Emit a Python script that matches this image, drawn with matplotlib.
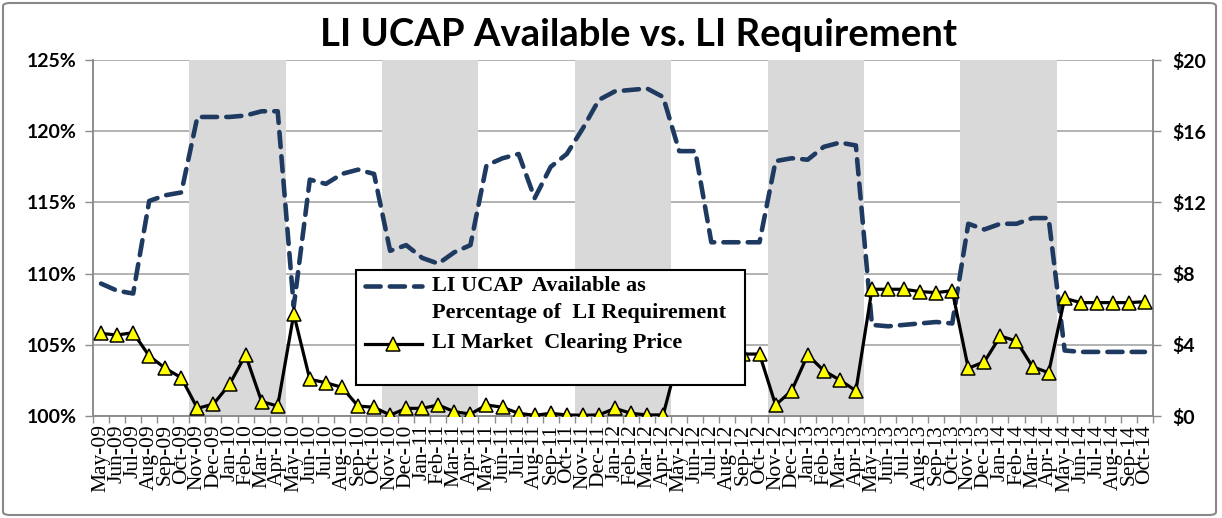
import matplotlib.pyplot as plt
import pandas as pd
from matplotlib.lines import Line2D
from matplotlib.patches import Rectangle, FancyBboxPatch

# monthly data, May-09 .. Oct-14
months = list(pd.date_range('2009-05-01', periods=66, freq='MS').strftime('%b-%y'))

ucap_pct = [109.3, 108.8, 108.6, 115.1, 115.5, 115.7, 121.0, 121.0, 121.0, 121.1, 121.4, 121.4,
            107.7, 116.6, 116.3, 117.0, 117.3, 117.0, 111.6, 112.0, 111.1, 110.7, 111.5, 112.0,
            117.6, 118.1, 118.4, 115.3, 117.5, 118.4, 120.2, 122.2, 122.8, 122.9, 123.0, 122.4,
            118.6, 118.6, 112.2, 112.2, 112.2, 112.2, 117.9, 118.1, 118.0, 118.9, 119.2, 119.0,
            106.4, 106.3, 106.4, 106.5, 106.6, 106.5, 113.5, 113.1, 113.5, 113.5, 113.9, 113.9,
            104.6, 104.5, 104.5, 104.5, 104.5, 104.5]

clearing_price = [4.64, 4.55, 4.68, 3.37, 2.68, 2.15, 0.43, 0.67, 1.78, 3.43, 0.81, 0.56,
                  5.73, 2.06, 1.87, 1.61, 0.56, 0.49, 0.05, 0.43, 0.43, 0.62, 0.24, 0.11,
                  0.62, 0.49, 0.15, 0.04, 0.15, 0.06, 0.04, 0.06, 0.43, 0.15, 0.06, 0.06,
                  3.50, 3.50, 3.50, 3.50, 3.48, 3.48, 0.62, 1.42, 3.43, 2.55, 2.02, 1.42,
                  7.12, 7.12, 7.12, 6.99, 6.93, 7.04, 2.68, 3.05, 4.49, 4.21, 2.77, 2.43,
                  6.61, 6.37, 6.37, 6.37, 6.37, 6.42]

winter = ['Nov', 'Dec', 'Jan', 'Feb', 'Mar', 'Apr']

W, H = 1222, 518
fig = plt.figure(figsize=(W / 100, H / 100), dpi=100)

def fx(x):
    return x / W

def fy(y):
    return 1 - y / H

ax = fig.add_axes([fx(93), fy(416), fx(1153) - fx(93), fy(60) - fy(416)])
ax2 = ax.twinx()

x = list(range(len(months)))
navy = '#1f3a60'
grey = '#8c8c8c'
dash = (3.3, 2.0)

# winter capability periods shaded
i = 0
while i < len(months):
    if months[i][:3] in winter:
        j = i
        while j + 1 < len(months) and months[j + 1][:3] in winter:
            j += 1
        ax.axvspan(i - 0.5, j + 0.5, color='#d9d9d9', lw=0, zorder=1)
        i = j + 1
    else:
        i += 1

ax.plot(x, ucap_pct, color=navy, lw=3.3, dashes=dash, dash_capstyle='round', zorder=3)
ax2.plot(x, clearing_price, color='black', lw=2.3, marker='^', markersize=10,
         markerfacecolor='#ffff00', markeredgecolor='black', markeredgewidth=1.1, zorder=3)

ax.set_xlim(-0.5, len(months) - 0.5)
ax.set_ylim(100, 125)
ax.set_yticks([100, 105, 110, 115, 120, 125])
ax.set_yticklabels([f'{v}%' for v in range(100, 126, 5)])
ax2.set_ylim(0, 20)
ax2.set_yticks([0, 4, 8, 12, 16, 20])
ax2.set_yticklabels([f'${v}' for v in range(0, 21, 4)])

ax.grid(axis='y', color='#a6a6a6', lw=1.2)
ax.set_axisbelow(True)

ax.set_xticks(x)
ax.set_xticklabels(months, rotation=90, family='Liberation Serif', fontsize=15.5)
ax.set_xticks([k - 0.5 for k in range(len(months) + 1)], minor=True)
ax.tick_params(axis='x', which='major', length=0, pad=6)
ax.tick_params(axis='x', which='minor', length=5, color=grey, width=1)
ax.tick_params(axis='y', length=6, color=grey, width=1, pad=6)
ax2.tick_params(axis='y', length=6, color=grey, width=1, pad=8)
for lab in ax.get_yticklabels() + ax2.get_yticklabels():
    lab.set_family('Lato')
    lab.set_fontweight('bold')
    lab.set_fontsize(14)

for a in (ax, ax2):
    a.spines['top'].set_visible(False)
    for s in ('left', 'right', 'bottom'):
        a.spines[s].set_color(grey)
        a.spines[s].set_linewidth(1.2)

fig.text(fx(639), fy(35), 'LI UCAP Available vs. LI Requirement', ha='center', va='center',
         family='Lato', fontweight='bold', fontsize=27.5)

# legend box drawn by hand
fig.add_artist(Rectangle((fx(356), fy(385)), fx(745) - fx(356), fy(270) - fy(385),
                         transform=fig.transFigure, fc='white', ec='black', lw=1.5, zorder=10))
fig.add_artist(Line2D([fx(365), fx(422)], [fy(286), fy(286)], transform=fig.transFigure,
                      color=navy, lw=3.3, dashes=dash, dash_capstyle='round', zorder=11))
fig.add_artist(Line2D([fx(365), fx(422)], [fy(344), fy(344)], transform=fig.transFigure,
                      color='black', lw=2.3, zorder=11))
fig.add_artist(Line2D([fx(393)], [fy(344)], transform=fig.transFigure, marker='^', markersize=10,
                      markerfacecolor='#ffff00', markeredgecolor='black', markeredgewidth=1.1,
                      lw=0, zorder=12))
leg_font = dict(family='Liberation Serif', fontweight='bold', fontsize=16, va='center', ha='left', zorder=12)
fig.text(fx(432), fy(286), 'LI UCAP  Available as', **leg_font)
fig.text(fx(432), fy(313), 'Percentage of  LI Requirement', **leg_font)
fig.text(fx(432), fy(343), 'LI Market  Clearing Price', **leg_font)

# chart area border
fig.add_artist(FancyBboxPatch((fx(3), fy(515)), fx(1216) - fx(3), fy(3) - fy(515),
                              boxstyle='round,pad=0,rounding_size=0.006', transform=fig.transFigure,
                              fc='none', ec='#888888', lw=1.5, zorder=0))

fig.savefig('out.png', dpi=100)
